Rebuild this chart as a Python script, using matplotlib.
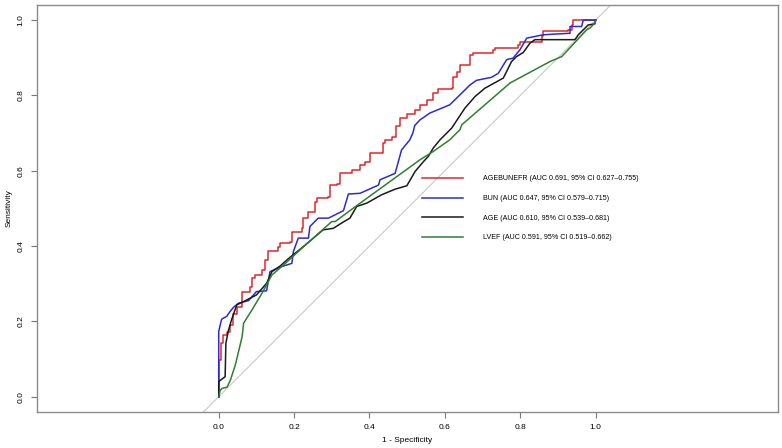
import matplotlib
matplotlib.use("Agg")
import matplotlib.pyplot as plt

plt.rcParams['font.family'] = ['Liberation Sans', 'DejaVu Sans']

# ROC points (1 - specificity, sensitivity)
red_fpr = [0, 0, 0.002, 0.005, 0.012, 0.023, 0.030, 0.037, 0.048, 0.061, 0.083, 0.088, 0.096,
           0.114, 0.123, 0.132, 0.158, 0.163, 0.189, 0.194, 0.22, 0.224, 0.238, 0.255, 0.26,
           0.291, 0.295, 0.313, 0.322, 0.353, 0.375, 0.388, 0.401, 0.432, 0.437, 0.441, 0.46,
           0.47, 0.48, 0.50, 0.52, 0.534, 0.552, 0.569, 0.582, 0.618, 0.622, 0.631, 0.64,
           0.667, 0.675, 0.728, 0.733, 0.795, 0.799, 0.857, 0.861, 0.927, 0.936, 0.941, 1.0]
red_tpr = [0, 0.097, 0.097, 0.142, 0.164, 0.173, 0.19, 0.22, 0.239, 0.279, 0.292, 0.315, 0.323,
           0.337, 0.363, 0.388, 0.398, 0.409, 0.412, 0.438, 0.447, 0.474, 0.491, 0.518, 0.527,
           0.531, 0.562, 0.566, 0.593, 0.602, 0.616, 0.624, 0.647, 0.647, 0.673, 0.682, 0.69,
           0.72, 0.74, 0.75, 0.76, 0.775, 0.788, 0.806, 0.817, 0.819, 0.85, 0.863, 0.881,
           0.908, 0.912, 0.921, 0.926, 0.934, 0.943, 0.957, 0.97, 0.974, 0.987, 1.0, 1.0]

blue_fpr = [0, 0, 0.005, 0.008, 0.021, 0.030, 0.039, 0.052, 0.079, 0.10, 0.127, 0.136, 0.163,
            0.194, 0.198, 0.211, 0.238, 0.242, 0.264, 0.291, 0.331, 0.344, 0.375, 0.424, 0.428,
            0.468, 0.485, 0.507, 0.515, 0.52, 0.534, 0.56, 0.613, 0.667, 0.684, 0.724, 0.742,
            0.764, 0.781, 0.799, 0.812, 0.817, 0.861, 0.932, 0.932, 0.963, 0.967, 1.0]
blue_tpr = [0, 0.173, 0.195, 0.206, 0.213, 0.226, 0.237, 0.248, 0.255, 0.279, 0.281, 0.332, 0.344,
            0.354, 0.385, 0.421, 0.421, 0.452, 0.474, 0.474, 0.494, 0.538, 0.54, 0.562, 0.576,
            0.593, 0.655, 0.682, 0.70, 0.72, 0.735, 0.753, 0.775, 0.828, 0.84, 0.848, 0.859,
            0.895, 0.899, 0.921, 0.943, 0.952, 0.961, 0.965, 0.983, 0.983, 1.0, 1.0]

black_fpr = [0, 0, 0.017, 0.019, 0.026, 0.034, 0.048, 0.065, 0.10, 0.127, 0.141, 0.163, 0.189,
             0.224, 0.277, 0.304, 0.326, 0.348, 0.366, 0.393, 0.432, 0.468, 0.499, 0.521, 0.543,
             0.556, 0.569, 0.587, 0.618, 0.653, 0.68, 0.706, 0.755, 0.777, 0.79, 0.808, 0.826,
             0.839, 0.945, 0.954, 0.967, 0.98, 0.998, 1.0]
black_tpr = [0, 0.04, 0.053, 0.142, 0.177, 0.204, 0.244, 0.252, 0.27, 0.301, 0.332, 0.347, 0.37,
             0.398, 0.443, 0.447, 0.461, 0.474, 0.505, 0.514, 0.536, 0.551, 0.56, 0.598, 0.624,
             0.638, 0.66, 0.682, 0.713, 0.766, 0.797, 0.819, 0.846, 0.89, 0.903, 0.914, 0.939,
             0.948, 0.948, 0.961, 0.974, 0.987, 0.99, 1.0]

green_fpr = [0, 0.004, 0.009, 0.022, 0.031, 0.044, 0.062, 0.066, 0.088, 0.115, 0.141, 0.177,
             0.216, 0.30, 0.309, 0.363, 0.534, 0.569, 0.613, 0.64, 0.645, 0.773, 0.879, 0.91,
             0.976, 0.985, 0.998, 1.0]
green_tpr = [0, 0.017, 0.022, 0.025, 0.044, 0.084, 0.159, 0.195, 0.23, 0.275, 0.323, 0.354,
             0.39, 0.465, 0.465, 0.505, 0.629, 0.651, 0.682, 0.709, 0.722, 0.833, 0.89, 0.903,
             0.974, 0.979, 0.992, 1.0]

labels = [
    "AGEBUNEFR (AUC 0.691, 95% CI 0.627\u20130.755)",
    "BUN (AUC 0.647, 95% CI 0.579\u20130.715)",
    "AGE (AUC 0.610, 95% CI 0.539\u20130.681)",
    "LVEF (AUC 0.591, 95% CI 0.519\u20130.662)",
]
colors = ["#e3262a", "#2b2bd6", "#1a1a1a", "#2f7f2f"]
styles = ["steps-post", "default", "default", "default"]
ticks = [0.0, 0.2, 0.4, 0.6, 0.8, 1.0]

fig = plt.figure(figsize=(7.82, 4.48), dpi=100)
ax = fig.add_axes([0.0469, 0.0810, 0.9476, 0.9078])

# chance line
ax.axline((0, 0), (1, 1), color="#c8c8c8", lw=0.8, zorder=1)

series = [(red_fpr, red_tpr), (blue_fpr, blue_tpr), (black_fpr, black_tpr), (green_fpr, green_tpr)]
for (fx, ty), c, ds, lab in zip(series, colors, styles, labels):
    ax.plot(fx, ty, color=c, lw=1.1, drawstyle=ds, label=lab, zorder=2)

ax.set_xlim(-0.483, 1.483)
ax.set_ylim(-0.04, 1.04)
ax.set_xticks(ticks)
ax.set_yticks(ticks)
ax.set_xticklabels([f"{t:.1f}" for t in ticks])
ax.set_yticklabels([f"{t:.1f}" for t in ticks], rotation=90, va="center")
ax.tick_params(labelsize=6, length=4, width=0.8, color="#777777", pad=5)

for s in ax.spines.values():
    s.set_color("#8c8c8c")
    s.set_linewidth(1.0)

ax.set_xlabel("1 - Specificity", fontsize=6, labelpad=4)
ax.set_ylabel("Sensitivity", fontsize=6, labelpad=3)

ax.legend(loc="center left", bbox_to_anchor=(0.54, 0.50), bbox_transform=ax.transData,
          frameon=False, fontsize=5.1, handlelength=5.7, handletextpad=2.9,
          labelspacing=1.78, borderpad=0, borderaxespad=0)

fig.savefig("out.png", dpi=100)
